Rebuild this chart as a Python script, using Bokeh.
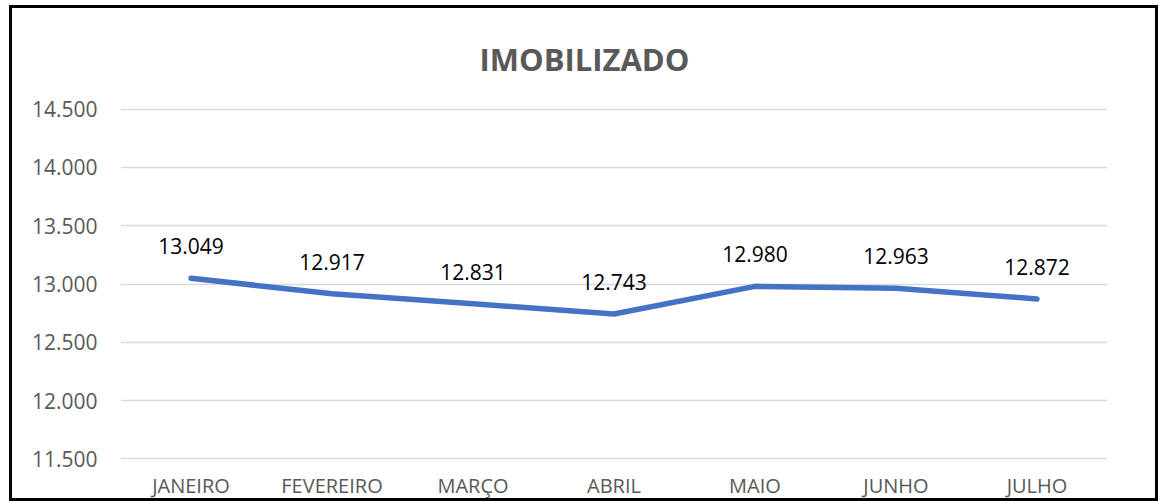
from bokeh.plotting import figure
from bokeh.models import Range1d, FixedTicker, CustomJSTickFormatter, ColumnDataSource
from bokeh.core.properties import value
from bokeh.embed import file_html
from bokeh.resources import INLINE

months = ["JANEIRO", "FEVEREIRO", "MARÇO", "ABRIL", "MAIO", "JUNHO", "JULHO"]
values = [13049, 12917, 12831, 12743, 12980, 12963, 12872]
y_ticks = [11500, 12000, 12500, 13000, 13500, 14000, 14500]
title_text = "IMOBILIZADO"

def fmt(v):
    return f"{v:,}".replace(",", ".")

labels = [fmt(v) for v in values]
src = ColumnDataSource(dict(x=months, y=values, lab=labels))

FONT = "Open Sans"
GRAY = "#595959"

p = figure(x_range=months, y_range=Range1d(11495, 14505),
           width=1143, height=490, output_backend="svg", toolbar_location=None,
           min_border_left=108, min_border_right=54, min_border_top=100, min_border_bottom=45)
p.styles = {"margin-left": "9px", "margin-top": "5px",
            "border": "3px solid black", "box-sizing": "content-box"}
p.outline_line_color = None
p.background_fill_color = "white"
p.border_fill_color = "white"

p.line("x", "y", source=src, line_color="#4472C4", line_width=5.5, line_cap="round", line_join="round")
p.text("x", "y", text="lab", source=src, text_align="center", text_baseline="middle",
       y_offset=-32, text_font=value(FONT), text_font_size="21px", text_color="#000000")

p.title.text = title_text
p.title.align = "left"
p.title.vertical_align = "top"
p.title.offset = 359
p.title.text_font = FONT
p.title.text_font_style = "bold"
p.title.text_font_size = "31px"
p.title.text_color = GRAY
p.title.standoff = 54

p.yaxis.ticker = FixedTicker(ticks=y_ticks)
p.yaxis.formatter = CustomJSTickFormatter(code="return tick.toLocaleString('de-DE', {minimumFractionDigits: 0});")
p.yaxis.axis_line_color = None
p.yaxis.major_tick_line_color = None
p.yaxis.minor_tick_line_color = None
p.yaxis.major_label_text_font = FONT
p.yaxis.major_label_text_font_size = "21px"
p.yaxis.major_label_text_color = GRAY
p.yaxis.major_label_standoff = 17

p.xaxis.axis_line_color = None
p.xaxis.major_tick_line_color = None
p.xaxis.major_label_text_font = FONT
p.xaxis.major_label_text_font_size = "20px"
p.xaxis.major_label_text_color = GRAY
p.xaxis.major_label_standoff = 6

p.xgrid.grid_line_color = None
p.ygrid.grid_line_color = "#D9D9D9"
p.ygrid.grid_line_width = 1.5
p.ygrid.ticker = FixedTicker(ticks=y_ticks)

open("out.html", "w").write(file_html(p, INLINE))
